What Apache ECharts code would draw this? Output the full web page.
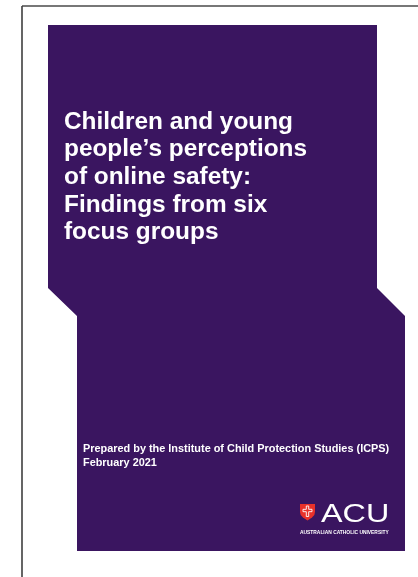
<!DOCTYPE html>
<html>
<head>
<meta charset="utf-8">
<script src="https://cdn.jsdelivr.net/npm/echarts@6/dist/echarts.min.js"></script>
<style>
html,body{margin:0;padding:0;background:#fff;}
#c{width:418px;height:577px;}
</style>
</head>
<body>
<div id="c"></div>
<script>
var titleLines = ["Children and young", "people\u2019s perceptions", "of online safety:", "Findings from six", "focus groups"];
var footerLines = ["Prepared by the Institute of Child Protection Studies (ICPS)", "February 2021"];
var logoWord = "ACU";
var logoTagline = "AUSTRALIAN CATHOLIC UNIVERSITY";

var purple = "#3a1560";
var chart = echarts.init(document.getElementById('c'), null, {renderer: 'canvas'});
var elements = [];

// page border (top and left)
elements.push({type: 'line', shape: {x1: 22, y1: 6, x2: 418, y2: 6}, style: {stroke: '#4a4a4a', lineWidth: 1.6}});
elements.push({type: 'line', shape: {x1: 22, y1: 6, x2: 22, y2: 577}, style: {stroke: '#3f3f3f', lineWidth: 1.6}});

// purple cover shape
elements.push({
  type: 'polygon',
  shape: {points: [[48, 25], [377, 25], [377, 288], [405, 316], [405, 551], [77, 551], [77, 316], [48, 288]]},
  style: {fill: purple}
});

// title
titleLines.forEach(function (t, i) {
  elements.push({
    type: 'text', x: 64, y: 122 + i * 27.6,
    style: {text: t, fill: '#ffffff', font: 'bold 24.4px "Liberation Sans", Arial, sans-serif', textVerticalAlign: 'middle', textAlign: 'left'}
  });
});

// footer
footerLines.forEach(function (t, i) {
  elements.push({
    type: 'text', x: 83, y: 449 + i * 13.5,
    style: {text: t, fill: '#ffffff', font: 'bold 10.9px "Liberation Sans", Arial, sans-serif', textVerticalAlign: 'middle', textAlign: 'left'}
  });
});

// ACU shield
elements.push({
  type: 'polygon',
  shape: {points: [[300, 504], [315, 504], [315, 512], [314.3, 515], [312, 517.6], [307.5, 520.5], [303, 517.6], [300.7, 515], [300, 512]]},
  style: {fill: '#e8312a'}
});
elements.push({
  type: 'polygon',
  shape: {points: [[306.3, 506], [308.7, 506], [308.7, 509.3], [312, 509.3], [312, 511.7], [308.7, 511.7], [308.7, 516.5], [306.3, 516.5], [306.3, 511.7], [303, 511.7], [303, 509.3], [306.3, 509.3]]},
  style: {fill: 'none', stroke: '#ffffff', lineWidth: 0.9}
});
elements.push({
  type: 'text', x: 321, y: 514.5, scaleX: 1.22, scaleY: 1,
  style: {text: logoWord, fill: '#ffffff', font: '26.5px "Liberation Sans", Arial, sans-serif', textVerticalAlign: 'middle', textAlign: 'left'}
});
elements.push({
  type: 'text', x: 300, y: 533,
  style: {text: logoTagline, fill: '#ffffff', font: 'bold 4.9px "Liberation Sans", Arial, sans-serif', textVerticalAlign: 'middle', textAlign: 'left'}
});

chart.setOption({
  backgroundColor: '#ffffff',
  animation: false,
  graphic: {elements: elements}
});
</script>
</body>
</html>
